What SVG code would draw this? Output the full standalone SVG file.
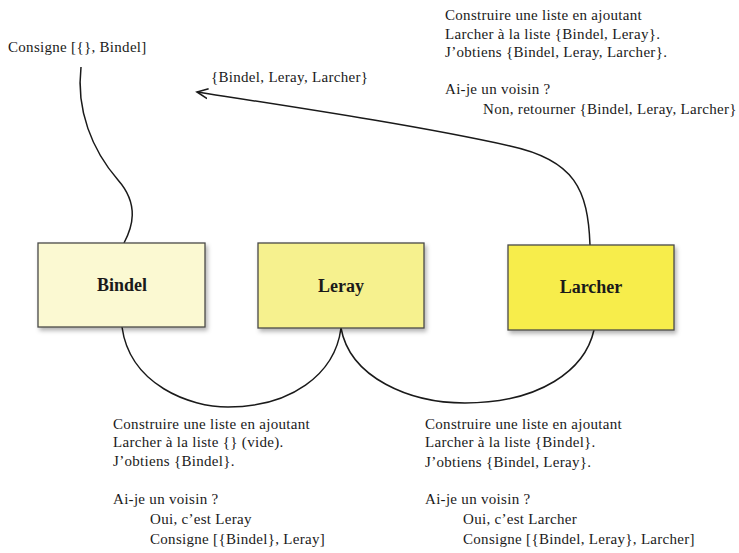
<svg xmlns="http://www.w3.org/2000/svg" width="739" height="553" viewBox="0 0 739 553">
<defs>
<style>
text{font-family:"Liberation Serif","Times New Roman",serif;fill:#1a1a1a}
.t{font-size:15px;letter-spacing:0.3px}
.n{font-size:18px;font-weight:bold;text-anchor:middle}
.box{stroke:#4a4a48;stroke-width:1.3}
.c{fill:none;stroke:#1a1a1a;stroke-width:1.5}
</style>
<filter id="sh" x="-10%" y="-10%" width="130%" height="130%">
<feDropShadow dx="2" dy="3" stdDeviation="2" flood-color="#000" flood-opacity="0.3"/>
</filter>
<marker id="ah" markerWidth="14" markerHeight="12" refX="11" refY="6" orient="auto" markerUnits="userSpaceOnUse">
<path d="M0,1 L11,6 L0,11" fill="none" stroke="#1a1a1a" stroke-width="1.6"/>
</marker>
</defs>
<rect width="739" height="553" fill="#ffffff"/>
<g id="connectors">
<path class="c" d="M81,67 C76,110 92,150 118,180 C140,205 132,228 124,243"/>
<path class="c" d="M122,327 C130,385 190,407 228,407 C290,407 335,375 341,328"/>
<path class="c" d="M341,328 C350,378 410,403 465,403 C540,403 585,370 594,330"/>
<path class="c" d="M590,245 C588,190 575,160 510,146 C420,126 300,108 197,92" marker-end="url(#ah)"/>
</g>
<g id="bindel">
<rect class="box" x="38" y="243" width="167" height="84" fill="#fbf9d2" filter="url(#sh)"/>
<text class="n" x="122" y="291">Bindel</text>
</g>
<g id="leray">
<rect class="box" x="258" y="243" width="166" height="85" fill="#f6f18e" filter="url(#sh)"/>
<text class="n" x="341" y="292">Leray</text>
</g>
<g id="larcher">
<rect class="box" x="508" y="245" width="166" height="85" fill="#f7ed4c" filter="url(#sh)"/>
<text class="n" x="591" y="293">Larcher</text>
</g>
<g id="labels">
<text class="t" x="8" y="52">Consigne [{}, Bindel]</text>
<text class="t" x="211" y="82">{Bindel, Leray, Larcher}</text>
<text class="t" x="445" y="20">Construire une liste en ajoutant</text>
<text class="t" x="445" y="39">Larcher à la liste {Bindel, Leray}.</text>
<text class="t" x="445" y="57">J’obtiens {Bindel, Leray, Larcher}.</text>
<text class="t" x="445" y="94">Ai-je un voisin ?</text>
<text class="t" x="483" y="114">Non, retourner {Bindel, Leray, Larcher}</text>
<text class="t" x="113" y="429">Construire une liste en ajoutant</text>
<text class="t" x="113" y="447">Larcher à la liste {} (vide).</text>
<text class="t" x="113" y="466">J’obtiens {Bindel}.</text>
<text class="t" x="113" y="504">Ai-je un voisin ?</text>
<text class="t" x="150" y="524">Oui, c’est Leray</text>
<text class="t" x="150" y="544">Consigne [{Bindel}, Leray]</text>
<text class="t" x="425" y="429">Construire une liste en ajoutant</text>
<text class="t" x="425" y="447">Larcher à la liste {Bindel}.</text>
<text class="t" x="425" y="467">J’obtiens {Bindel, Leray}.</text>
<text class="t" x="425" y="504">Ai-je un voisin ?</text>
<text class="t" x="463" y="524">Oui, c’est Larcher</text>
<text class="t" x="463" y="544">Consigne [{Bindel, Leray}, Larcher]</text>
</g>
</svg>
